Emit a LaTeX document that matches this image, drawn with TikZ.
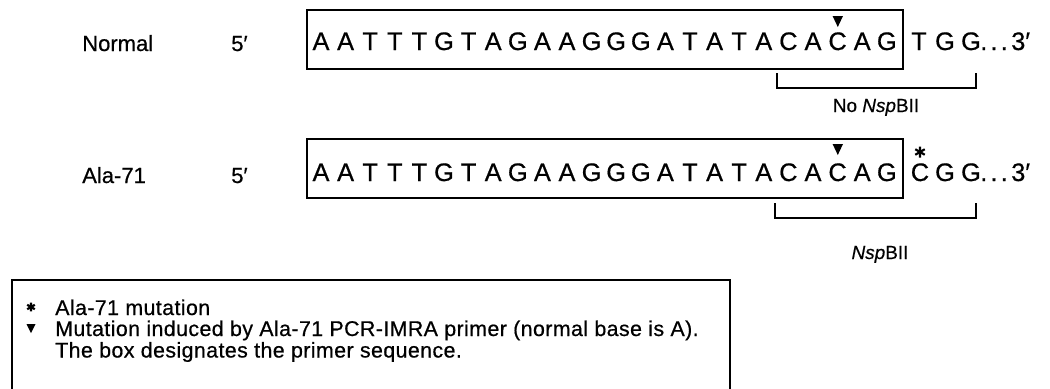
\documentclass[tikz,border=0pt]{standalone}
\usepackage{fontspec}
\setmainfont{Liberation Sans}
\newfontfamily\lblfont[LetterSpace=2.0,FakeBold=0.6]{Liberation Sans}
\newfontfamily\rowfont[FakeBold=0.6]{Liberation Sans}
\newfontfamily\seqfont[FakeBold=0.6]{Liberation Sans}
\usetikzlibrary{fit}
\begin{document}
\begin{tikzpicture}[x=0.75pt,y=-0.75pt,
  lab/.style={font=\lblfont\fontsize{16}{19}\selectfont, anchor=base west, inner sep=0pt},
  rowlab/.style={font=\rowfont\fontsize{16.5}{19}\selectfont, anchor=base west, inner sep=0pt},
  enzlab/.style={font=\rowfont\fontsize{14.2}{17}\selectfont, anchor=base, inner sep=0pt},
  basech/.style={font=\seqfont\fontsize{19}{21}\selectfont, anchor=base, inner sep=0pt},
  frame/.style={draw, line width=1.05pt},
  primerbox/.style={frame, inner sep=0pt},
  tri/.style={fill=black},
  ast/.pic={\draw[line width=1.6pt] (0,-5.5)--(0,5.5) (-4.76,-2.75)--(4.76,2.75) (-4.76,2.75)--(4.76,-2.75);}
]
\useasboundingbox (0,0) rectangle (1050,389);

% ---------- Normal row ----------
\node[rowlab] (normal) at (82,51) {Normal};
\node[rowlab] (fiveA) at (231,51) {5′};
\node[primerbox, fit={(307,10) (903,69)}] (boxA) {};
\foreach \b [count=\i] in {A,A,T,T,T,G,T,A,G,A,A,G,G,G,A,T,A,T,A,C,A,C,A,G}
  \node[basech] (a\i) at ({321+(\i-1)*24.6},50) {\b};
\node[basech] (aT) at (919,50) {T};
\node[basech] (aG1) at (945,50) {G};
\node[basech] (aG2) at (971,50) {G};
\node[basech, anchor=base west] (aEnd) at (980,50) {.\kern2.4pt.\kern2.4pt.\kern2.6pt3′};
\fill[tri] (832.6,16) -- (843,16) -- (837.8,27) -- cycle;
\coordinate (bA1) at (777,73);
\coordinate (bA2) at (976,73);
\draw[frame] (bA1) -- ++(0,15) -| (bA2);
\node[enzlab] (nspA) at (876,112) {No \textit{Nsp}BII};

% ---------- Ala-71 row ----------
\node[rowlab] (ala) at (82,183) {Ala-71};
\node[rowlab] (fiveB) at (231,183) {5′};
\node[primerbox, fit={(307,139) (903,198)}] (boxB) {};
\foreach \b [count=\i] in {A,A,T,T,T,G,T,A,G,A,A,G,G,G,A,T,A,T,A,C,A,C,A,G}
  \node[basech] (b\i) at ({321+(\i-1)*24.6},181) {\b};
\node[basech] (bC) at (920,181) {C};
\node[basech] (bG1) at (945,181) {G};
\node[basech] (bG2) at (971,181) {G};
\node[basech, anchor=base west] (bEnd) at (980,181) {.\kern2.4pt.\kern2.4pt.\kern2.6pt3′};
\fill[tri] (832.6,144) -- (843,144) -- (837.8,155) -- cycle;
\pic at (920,152) {ast};
\coordinate (bB1) at (775,203);
\coordinate (bB2) at (976,203);
\draw[frame] (bB1) -- ++(0,15) -| (bB2);
\node[enzlab] (nspB) at (880,259) {\textit{Nsp}BII};

% ---------- Legend ----------
\draw[frame] (12,389.5) -- (12,280) -- (730,280) -- (730,389.5);
\pic[scale=0.8] at (31,307) {ast};
\fill[tri] (26.5,324) -- (35.5,324) -- (31,333) -- cycle;
\node[lab] (l1) at (55,315) {Ala-71 mutation};
\node[lab] (l2) at (55,336) {Mutation induced by Ala-71 PCR-IMRA primer (normal base is A).};
\node[lab] (l3) at (55,357.5) {The box designates the primer sequence.};
\end{tikzpicture}
\end{document}
